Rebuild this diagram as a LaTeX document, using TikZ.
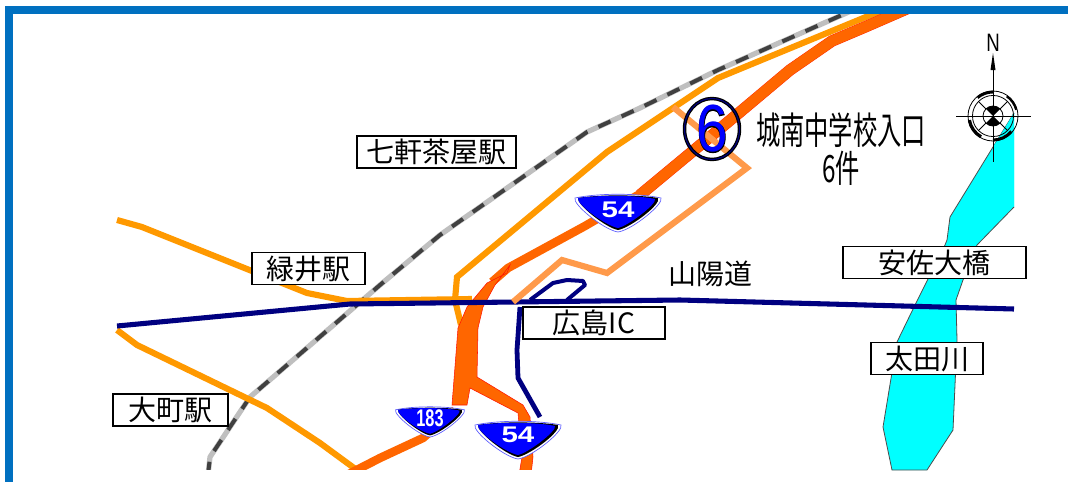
\documentclass[tikz,border=0pt]{standalone}
\usepackage{fontspec}
\setmainfont{Liberation Sans}
\newfontfamily\jp{Noto Sans CJK JP}
\newfontfamily\digitbold[FakeBold=1.5]{Liberation Sans}
\newfontfamily\digitwide{Liberation Sans Bold}
\definecolor{frameblue}{RGB}{0,112,192}
\definecolor{natroad}{RGB}{255,102,0}
\definecolor{ylroad}{RGB}{255,153,0}
\definecolor{route}{RGB}{255,154,74}
\definecolor{expway}{RGB}{0,0,128}
\definecolor{rivercol}{RGB}{0,255,255}
\definecolor{pureblue}{RGB}{0,0,255}
\definecolor{shieldedge}{RGB}{90,90,255}
\tikzset{
  x=0.75pt,y=-0.75pt,
  ylroadline/.style={draw=ylroad,line width=4.6pt,line join=miter},
  natline/.style={draw=natroad,line join=round},
  expline/.style={draw=expway,line width=3.8pt,line join=round},
  labelbox/.style={draw=black,fill=white,line width=1.4pt,minimum height=24pt,inner sep=0pt,font=\jp\fontsize{21}{21}\selectfont},
  shieldshape/.pic={
    \path[draw=shieldedge,fill=white,line width=.5pt] (-43,-14) .. controls (-20,-19) and (20,-19) .. (43,-14) .. controls (46,-8) and (14,18) .. (0,20) .. controls (-14,18) and (-46,-8) .. (-43,-14) -- cycle;
    \path[fill=black] (-40,-14) .. controls (-20,-17.5) and (20,-17.5) .. (40,-14) .. controls (44,-8) and (12,16) .. (0,18) .. controls (-12,16) and (-42,-8) .. (-40,-14) -- cycle;
    \path[fill=pureblue] (-40,-14) .. controls (-20,-17) and (20,-17) .. (37,-13) .. controls (39,-8) and (10,14) .. (0,16) .. controls (-12,14) and (-42,-8) .. (-40,-14) -- cycle;
  }
}
\begin{document}
\begin{tikzpicture}
\useasboundingbox (0,0) rectangle (1068,482);
\fill[white] (0,0) rectangle (1068,482);
% river
\path[fill=rivercol,draw=black!70,line width=.6pt] (1014,113) -- (993,147) -- (950,217) -- (947,240) -- (945,245) -- (915,305) -- (897,342) -- (883,427) -- (892,470) -- (927,470) -- (953,430) -- (957,340) -- (956,300) -- (963,280) -- (977,245) -- (1014,207);
\fill[rivercol] (1014,113) -- (993,147) -- (1000,180) -- (1014,207) -- cycle;
\begin{scope}
\clip (13,14) rectangle (1068,469);
% railway
\draw[black!25,line width=3.9pt,line join=round] (208,475) -- (210,457) -- (250,397) -- (380,285) -- (440,235) -- (587,132) -- (640,108) -- (718,70) -- (860,7);
\draw[black!75,line width=3pt,dash pattern=on 10pt off 9pt] (208,475) -- (210,457) -- (250,397) -- (380,285) -- (440,235) -- (587,132) -- (640,108) -- (718,70) -- (860,7);
% yellow roads
\draw[ylroadline] (890,7) -- (718,78) -- (640,130) -- (607,152) -- (457,277) -- (455,300) -- (461,325);
\draw[ylroadline] (117,220) -- (142,227) -- (307,293) -- (347,301) -- (472,299);
\draw[ylroadline] (117,330) -- (137,345) -- (267,408) -- (320,443) -- (365,476);
% national road
\draw[natline,red!70!natroad,line width=8.6pt] (911,7) -- (865,27) -- (832,41) -- (790,70) -- (740,112) -- (640,195);
\draw[natline,line width=8pt] (911,7) -- (865,27) -- (832,41) -- (790,70) -- (740,112) -- (640,195);
\draw[natline,line width=6.4pt] (645,191) -- (585,226) -- (508,268) -- (492,282);
\path[fill=natroad,draw=red!80!natroad,line width=.4pt] (507,273) -- (487,283) -- (467,307) -- (458,328) -- (452,405) -- (467,405) -- (470,388) -- (518,413) -- (522,457) -- (519,475) -- (531,475) -- (533,457) -- (530,417) -- (523,405) -- (477,377) -- (478,328) -- (483,307) -- (495,285) -- (510,265) -- cycle;
\draw[natline,line width=6.4pt] (345,476) -- (380,458) -- (423,438) -- (455,410);
% expressway
\draw[expline,line width=3.6pt] (520,307) -- (517,350) -- (518,378) -- (540,417);
\draw[expline,line width=3pt] (530,300) -- (553,283) -- (567,280) -- (583,281) -- (585,285) -- (567,300);
\draw[expline] (117,326) -- (350,304) -- (680,300) -- (1014,309);
% route
\draw[draw=route,line width=4.6pt,line join=miter] (513,302) -- (562,260) -- (607,273) -- (747,168) -- (673,107);
\end{scope}
% frame
\fill[frameblue] (5,6) rectangle (1068,14);
\fill[frameblue] (5,6) rectangle (13,482);
% shields
\pic at (618,212) {shieldshape};
\node[font=\digitwide\fontsize{17}{17}\selectfont,text=white,xscale=1.3] (s1) at (618,210) {54};
\pic[scale=.8] at (430,421) {shieldshape};
\node[font=\digitwide\fontsize{18}{18}\selectfont,text=white,xscale=.68] (s2) at (430,418) {183};
\pic at (518,439) {shieldshape};
\node[font=\digitwide\fontsize{17}{17}\selectfont,text=white,xscale=1.3] (s3) at (518,435) {54};
% number circle
\draw[black,line width=2.6pt] (712,129) ellipse (27.5 and 30.5);
\draw[expway,line width=.8pt] (712,129) ellipse (27.5 and 30.5);
\node[xscale=.85,font=\digitbold\fontsize{50}{50}\selectfont,text=black] (six0) at (712,129) {6};
\node[xscale=.85,font=\fontsize{50}{50}\selectfont,text=pureblue] (six) at (712,129) {6};
% title
\node[yscale=1.55,font=\jp\fontsize{18.2}{18.2}\selectfont] (title) at (841,130) {城南中学校入口};
\node[yscale=1.55,font=\jp\fontsize{18.2}{18.2}\selectfont] (count) at (841,168) {6件};
% labels
\node[labelbox,minimum width=119pt] (nana) at (436.5,152) {七軒茶屋駅};
\node[labelbox,minimum width=84.5pt] (midori) at (308.5,268.5) {緑井駅};
\node[labelbox,minimum width=86pt] (omachi) at (170.5,410) {大町駅};
\node[labelbox,minimum width=106pt] (ic) at (594,323) {広島IC};
\node[labelbox,minimum width=137pt] (asa) at (934.5,262.5) {安佐大橋};
\node[labelbox,minimum width=84pt] (ota) at (927,358.5) {太田川};
\node[inner sep=0pt,font=\jp\fontsize{21}{21}\selectfont] (sanyo) at (710,274) {山陽道};
% compass
\node[yscale=1.35,font=\fontsize{14}{14}\selectfont] (north) at (993,43) {N};
\begin{scope}[shift={(993,116)},y=0.75pt]
\draw[line width=.6pt] (0,46) -- (0,-46);
\fill (0,63) -- (-2.5,46) -- (2.5,46) -- cycle;
\draw[line width=.6pt] (-37,0) -- (38,0);
\draw[line width=.6pt] (0,0) circle[radius=18.75pt];
\draw[line width=.6pt] (0,0) circle[radius=15.4pt];
\draw[line width=.6pt] (0,0) circle[radius=7.5pt];
\foreach \a in {45,135,225,315} \draw[line width=.6pt] (\a:7.5pt) -- (\a:15.4pt);
\draw[line width=2.2pt] (90:18pt) arc[start angle=90,end angle=130,radius=18pt];
\draw[line width=1.6pt] (55:18pt) arc[start angle=55,end angle=15,radius=18pt];
\draw[line width=2.4pt] (190:18pt) arc[start angle=190,end angle=240,radius=18pt];
\draw[line width=2.2pt] (270:18pt) arc[start angle=270,end angle=320,radius=18pt];
\fill (0,0) -- (45:7.5pt) arc[start angle=45,end angle=135,radius=7.5pt] -- cycle;
\fill (0,0) -- (225:7.5pt) arc[start angle=225,end angle=315,radius=7.5pt] -- cycle;
\end{scope}
\end{tikzpicture}
\end{document}
